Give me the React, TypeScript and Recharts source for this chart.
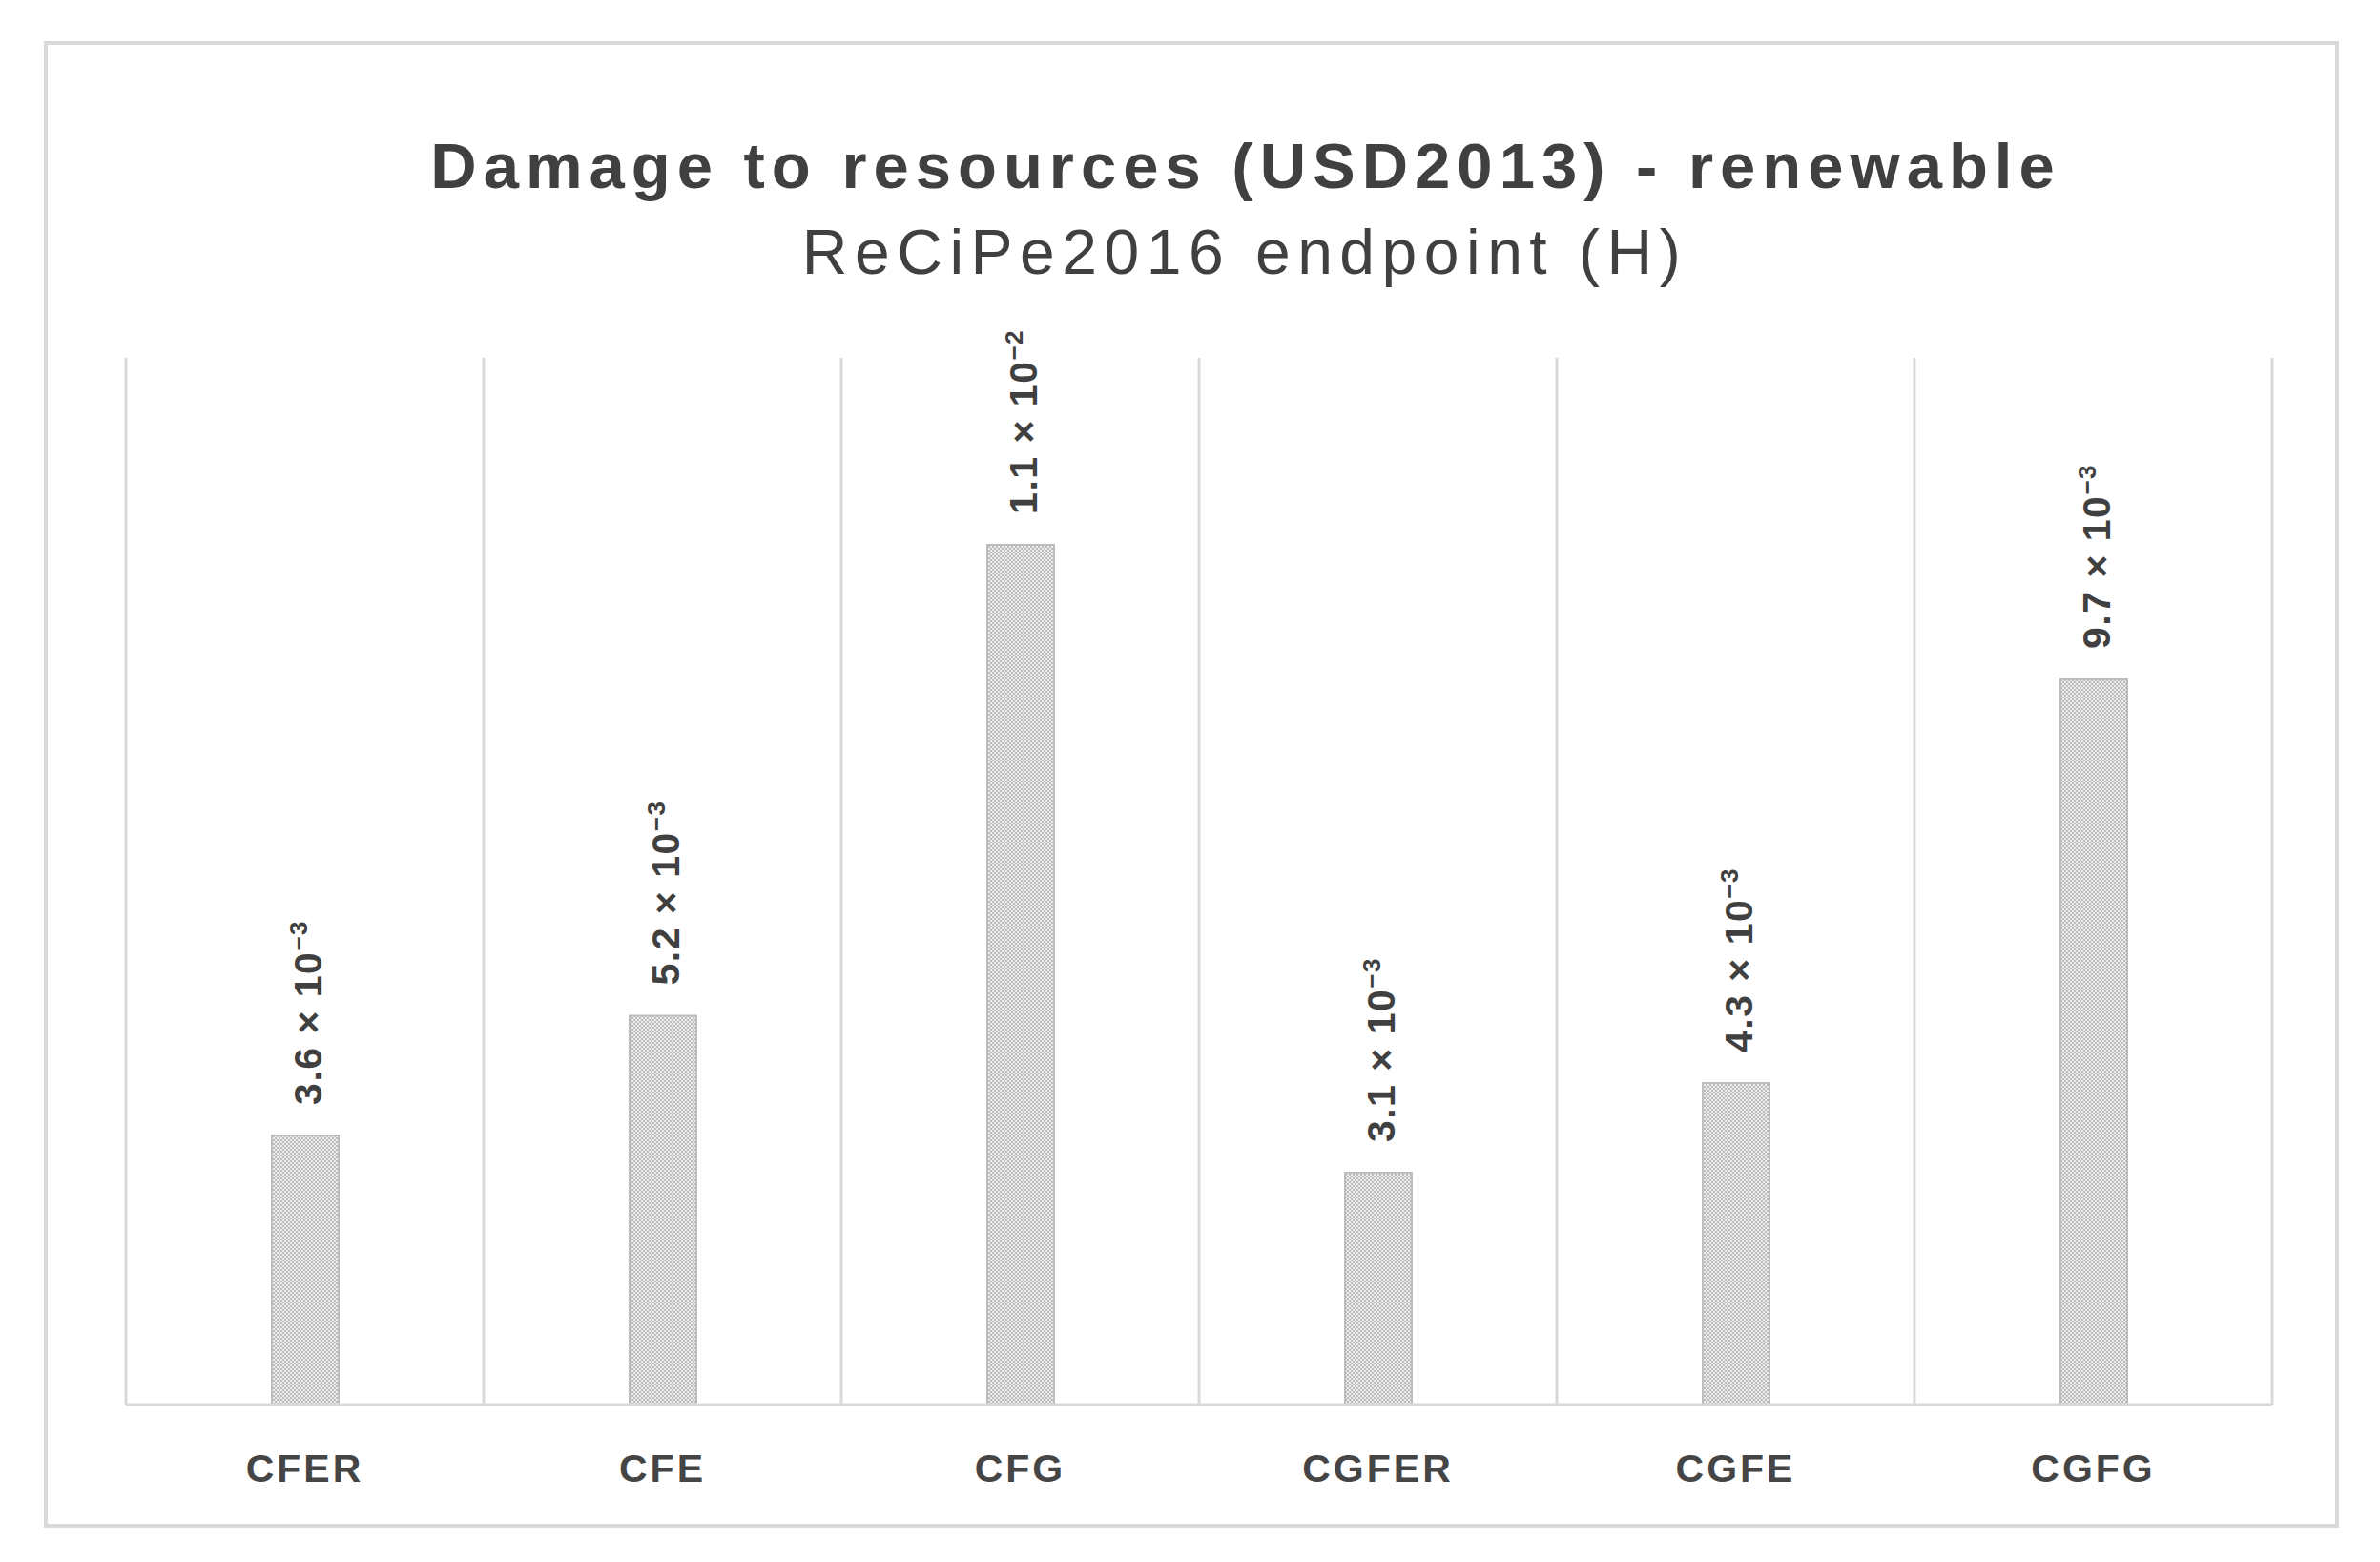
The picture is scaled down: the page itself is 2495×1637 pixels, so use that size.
import React from 'react';
import { BarChart, Bar, XAxis, YAxis, CartesianGrid, LabelList } from 'recharts';

const categories = ['CFER', 'CFE', 'CFG', 'CGFER', 'CGFE', 'CGFG'];
const damage = [0.0036, 0.0052, 0.0115, 0.0031, 0.0043, 0.0097];
const labelMantissa = ['3.6', '5.2', '1.1', '3.1', '4.3', '9.7'];
const labelExponent = ['−3', '−3', '−2', '−3', '−3', '−3'];
// category boundaries (in category units) where the vertical grid lines sit
const gridSteps = [0, 1, 2, 3, 4, 5, 6];

const data = categories.map((name, i) => ({ name, damage: damage[i] }));

const FONT = '"Liberation Sans", Arial, sans-serif';
const TEXT = '#404040';
const GRID = '#d9d9d9';

const CategoryTick = (props: any) => {
  const { x, y, payload } = props;
  return (
    <text
      x={x}
      y={y + 81}
      textAnchor="middle"
      fontFamily={FONT}
      fontSize={41}
      fontWeight="bold"
      letterSpacing={3}
      fill="#454545"
    >
      {payload.value}
    </text>
  );
};

const BarValueLabel = (props: any) => {
  const { x, y, width, index, value } = props;
  let i = index;
  if (i === undefined || i === null) i = damage.indexOf(value);
  const cx = Number(x) + Number(width) / 2 + 17;
  const cy = Number(y) - 32;
  return (
    <text
      transform={`translate(${cx},${cy}) rotate(-90)`}
      fontFamily={FONT}
      fontSize={41}
      fontWeight="bold"
      letterSpacing={1.5}
      fill={TEXT}
    >
      {`${labelMantissa[i]} × 10`}
      <tspan fontSize={26} dy={-15}>
        {labelExponent[i]}
      </tspan>
    </text>
  );
};

// grid lines between categories, derived from the plot offset
const categoryBoundaries = ({ offset }: any) =>
  gridSteps.map((s) => offset.left + (s * offset.width) / categories.length);

export default function App() {
  return (
    <div style={{ position: 'absolute', left: 0, top: 0, width: 2495, height: 1637, background: '#fff' }}>
      <svg width={0} height={0} style={{ position: 'absolute' }}>
        <defs>
          <pattern id="barDots" width={4} height={4} patternUnits="userSpaceOnUse">
            <rect width={4} height={4} fill="#ececec" />
            <rect width={2} height={2} fill="#bcbcbc" />
            <rect x={2} y={2} width={2} height={2} fill="#bcbcbc" />
          </pattern>
        </defs>
      </svg>

      <div
        style={{
          position: 'absolute',
          left: 46,
          top: 43,
          width: 2406,
          height: 1558,
          border: `4px solid ${GRID}`,
          boxSizing: 'border-box',
        }}
      />

      <div style={{ position: 'absolute', left: 0, top: 0 }}>
        <BarChart
          width={2495}
          height={1637}
          data={data}
          margin={{ top: 375, right: 113, bottom: 75, left: 132 }}
        >
          <CartesianGrid
            horizontal={false}
            verticalCoordinatesGenerator={categoryBoundaries}
            stroke={GRID}
            strokeWidth={3}
          />
          <XAxis
            dataKey="name"
            height={90}
            tickSize={0}
            tickMargin={0}
            tickLine={false}
            axisLine={{ stroke: GRID, strokeWidth: 3 }}
            tick={<CategoryTick />}
            interval={0}
          />
          <YAxis hide domain={[0, 0.014]} />
          <Bar
            dataKey="damage"
            barSize={70}
            fill="url(#barDots)"
            stroke="#bdbdbd"
            strokeWidth={2}
            isAnimationActive={false}
          >
            <LabelList dataKey="damage" content={<BarValueLabel />} />
          </Bar>
        </BarChart>
      </div>

      <svg width={2495} height={1637} style={{ position: 'absolute', left: 0, top: 0, pointerEvents: 'none' }}>
        <text
          x={1306}
          y={197}
          textAnchor="middle"
          fontFamily={FONT}
          fontSize={67}
          fontWeight="bold"
          letterSpacing={7}
          fill={TEXT}
        >
          Damage to resources (USD2013) - renewable
        </text>
        <text
          x={1305}
          y={287}
          textAnchor="middle"
          fontFamily={FONT}
          fontSize={66}
          letterSpacing={7.5}
          fill={TEXT}
        >
          ReCiPe2016 endpoint (H)
        </text>
      </svg>
    </div>
  );
}
